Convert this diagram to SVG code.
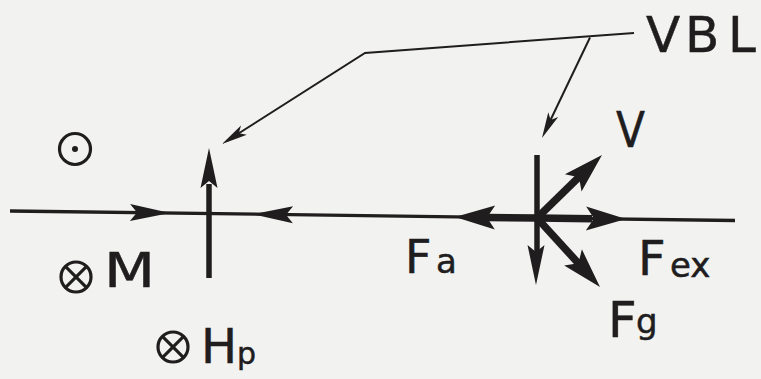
<svg xmlns="http://www.w3.org/2000/svg" xmlns:xlink="http://www.w3.org/1999/xlink" width="761" height="379" viewBox="0 0 761 379">
<style>
.ink{fill:#201d1e}
.ln{stroke:#201d1e;fill:none;stroke-linecap:butt}
.thin{stroke-width:3.3}
.lead{stroke-width:2}
.vert{stroke-width:5.5}
.thick{stroke-width:7.5}
.sym{stroke:#201d1e;stroke-width:3.2;fill:none}
.lbl{font-family:"DejaVu Sans","Liberation Sans",sans-serif;fill:#201d1e;stroke:#201d1e;stroke-width:0.5}
.big{font-size:48px}
.sub{font-size:34px}
</style>
<defs>
<path id="ahMain" d="M0,0 L-40,-8.5 L-33,0 L-40,8.5 Z"/>
<path id="ahThick" d="M0,0 L-40,-12 L-32,0 L-40,12 Z"/>
<path id="ahLead" d="M0,0 L-26,-5.5 L-20,0 L-26,5.5 Z"/>
</defs>
<rect width="761" height="379" fill="#f2f2f0"/>

<g id="connectors">
  <line class="ln thin" x1="10" y1="211" x2="735" y2="220.5"/>
  <polyline class="ln lead" points="634,33 365,53 229,139.5"/>
  <line class="ln lead" x1="590" y1="37.5" x2="545.5" y2="130.5"/>
  <use xlink:href="#ahLead" class="ink" transform="translate(222,144) rotate(147.5)"/>
  <use xlink:href="#ahLead" class="ink" transform="translate(542,138) rotate(115.6)"/>
</g>

<g id="node-left">
  <use xlink:href="#ahMain" class="ink" transform="translate(170,213) rotate(0.8)"/>
  <use xlink:href="#ahMain" class="ink" transform="translate(253,214.3) rotate(180.8)"/>
  <line class="ln vert" x1="209" y1="278" x2="209" y2="184"/>
  <use xlink:href="#ahMain" class="ink" transform="translate(209,148) rotate(-90)"/>
</g>

<g id="node-right">
  <line class="ln vert" x1="537" y1="155" x2="537" y2="252"/>
  <use xlink:href="#ahMain" class="ink" transform="translate(536,285) rotate(90)"/>
  <line class="ln thick" x1="537" y1="218" x2="592" y2="218.8"/>
  <use xlink:href="#ahThick" class="ink" transform="translate(626,219) rotate(0.8)"/>
  <line class="ln thick" x1="537" y1="218" x2="488" y2="217.5"/>
  <use xlink:href="#ahThick" class="ink" transform="translate(455,217) rotate(180.8)"/>
  <line class="ln thick" x1="537" y1="218" x2="579" y2="177"/>
  <use xlink:href="#ahThick" class="ink" transform="translate(602,155) rotate(-44)"/>
  <line class="ln thick" x1="537" y1="218" x2="579" y2="264"/>
  <use xlink:href="#ahThick" class="ink" transform="translate(600,287) rotate(47.6)"/>
</g>

<g id="sym-dot">
  <circle class="sym" cx="75" cy="149" r="15.5"/>
  <circle class="ink" cx="75" cy="149" r="3"/>
</g>

<g id="sym-M">
  <circle class="sym" cx="76" cy="277" r="15"/>
  <line class="sym" x1="65.4" y1="266.4" x2="86.6" y2="287.6"/>
  <line class="sym" x1="86.6" y1="266.4" x2="65.4" y2="287.6"/>
  <text class="lbl big" x="104" y="287" textLength="51" lengthAdjust="spacingAndGlyphs">M</text>
</g>

<g id="sym-Hp">
  <circle class="sym" cx="173" cy="347" r="15"/>
  <line class="sym" x1="162.4" y1="336.4" x2="183.6" y2="357.6"/>
  <line class="sym" x1="183.6" y1="336.4" x2="162.4" y2="357.6"/>
  <text class="lbl big" x="201" y="363">H</text>
  <text class="lbl" font-size="30px" x="237" y="364">p</text>
</g>

<g id="label-VBL">
  <text class="lbl" font-size="50px" x="646 685 728" y="52">VBL</text>
</g>

<g id="label-V">
  <text class="lbl" font-size="50px" x="616" y="147" textLength="29" lengthAdjust="spacingAndGlyphs">V</text>
</g>

<g id="label-Fa">
  <text class="lbl" font-size="46px" x="405" y="273">F<tspan class="sub" x="436">a</tspan></text>
</g>

<g id="label-Fex">
  <text class="lbl big" x="638" y="275">F<tspan class="sub" x="670" y="277">ex</tspan></text>
</g>

<g id="label-Fg">
  <text class="lbl" font-size="50px" x="608" y="337">F<tspan class="sub" x="636" y="333">g</tspan></text>
</g>
</svg>
